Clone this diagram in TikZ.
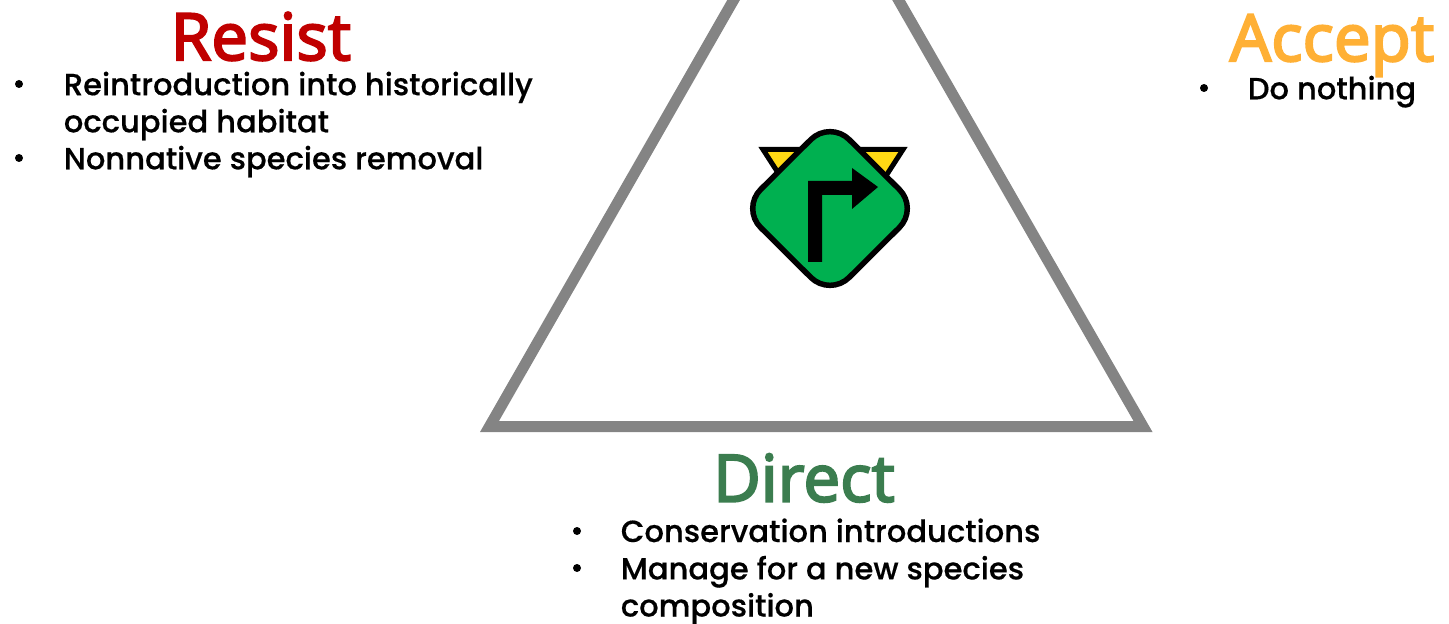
\documentclass[tikz,border=0pt]{standalone}
\usepackage{fontspec}
\setmainfont{Poppins Medium}[FakeBold=0.4]
\newfontfamily\headfont{Open Sans}[FakeBold=3.5,LetterSpace=0.6]
\definecolor{resistred}{HTML}{C00000}
\definecolor{acceptorange}{HTML}{FFB035}
\definecolor{directgreen}{HTML}{3B7D4F}
\definecolor{edgegray}{HTML}{848484}
\definecolor{signgreen}{HTML}{00B050}
\definecolor{signyellow}{HTML}{FFD914}
\tikzset{
    head/.style = {anchor = base, inner sep = 0pt, font = \headfont\fontsize{37pt}{40pt}\selectfont},
    item/.style = {anchor = base west, inner sep = 0pt, align = left, font = \fontsize{17.4pt}{21.1pt}\selectfont},
    dot/.style = {circle, fill = black, inner sep = 0pt, minimum size = 8\unit},
}
\newlength{\unit}
\setlength{\unit}{0.02cm}
\begin{document}
\begin{tikzpicture}[x = 0.02cm, y = -0.02cm]
            \useasboundingbox (0,0) rectangle (1449,624);
            \clip (0,0) rectangle (1449,624);

            %Triangle
            \draw [edgegray, line width = 11\unit, miter limit = 10]
            (816,-144) -- (1143,426.5) -- (489.5,426.5) -- cycle;

            %Sign
            \draw [black, fill = signyellow, line width = 5\unit, line join = miter]
            (763,149.5) -- (903,149.5) -- (833,258) -- cycle;
            \draw [black, fill = signgreen, line width = 5.5\unit, rounded corners = 0.54cm]
            (830,120.5) -- (918.5,208.5) -- (830,296.5) -- (741.5,208.5) -- cycle;
            \fill [black]
            (808,262) -- (808,181) -- (852,181) -- (852,168) -- (878,187)
            -- (852,209) -- (852,195) -- (822,195) -- (822,262) -- cycle;

            %Resist
            \node [head, text = resistred]
            (Resist)at(261,60){Resist};
            \node [dot] (r1)at(19,84){};
            \node [item]
            (ritem1)at(63.5,132.3){Reintroduction into historically\\occupied habitat};
            \node [dot] (r2)at(19,158){};
            \node [item]
            (ritem2)at(63.5,169.3){Nonnative species removal};

            %Accept
            \node [head, text = acceptorange]
            (Accept)at(1332,61){Accept};
            \node [dot] (a1)at(1204,88){};
            \node [item]
            (aitem1)at(1247.5,99.3){Do nothing};

            %Direct
            \node [head, text = directgreen]
            (Direct)at(804,501.5){Direct};
            \node [dot] (d1)at(577,531){};
            \node [item]
            (ditem1)at(620.5,542){Conservation introductions};
            \node [dot] (d2)at(577,568){};
            \node [item]
            (ditem2)at(620.5,616.5){Manage for a new species\\composition};

        \end{tikzpicture}
\end{document}
